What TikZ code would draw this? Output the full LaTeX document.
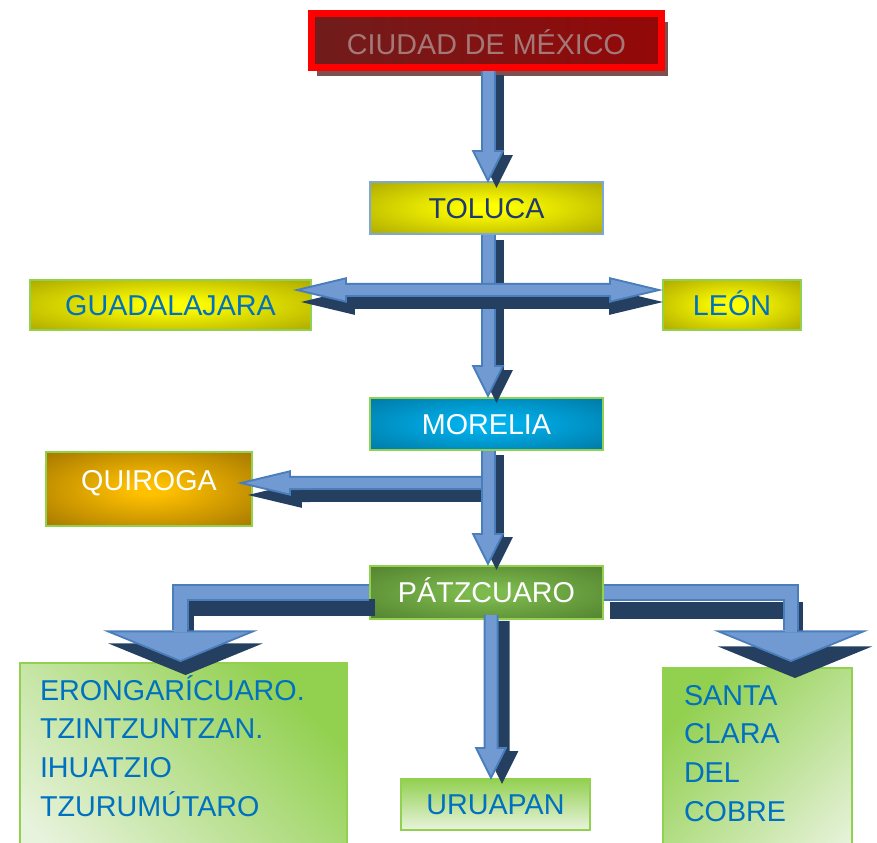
\documentclass[tikz,border=0pt]{standalone}
\usepackage{fontspec}
\setmainfont{Liberation Sans}
\usepackage{tikz}
\usetikzlibrary{arrows.meta, positioning, calc, shadows}

\definecolor{edgeblue}{HTML}{4A7EBB}
\definecolor{coreblue}{HTML}{729AD2}
\definecolor{navy}{HTML}{243F60}
\definecolor{leaf}{HTML}{92D050}
\definecolor{palegreen}{HTML}{E8F3DD}
\definecolor{placeblue}{HTML}{0070C0}
\definecolor{darkred}{HTML}{701C1C}
\definecolor{midred}{HTML}{A3161A}
\definecolor{rightred}{HTML}{940808}
\definecolor{redshadow}{HTML}{7D5050}
\definecolor{redtext}{HTML}{A57878}
\definecolor{mustard}{HTML}{A29E00}
\definecolor{tolblue}{HTML}{7BA7DC}
\definecolor{tolnavy}{HTML}{1F3A6E}
\definecolor{skyblue}{HTML}{00B2EE}
\definecolor{deepteal}{HTML}{00729C}
\definecolor{grassgreen}{HTML}{7DBA4E}
\definecolor{mossgreen}{HTML}{4E7B2B}
\definecolor{amber}{HTML}{FFC000}
\definecolor{bronze}{HTML}{9A6F00}
\colorlet{glowin}{yellow}
\colorlet{glowout}{mustard}
\pgfdeclareradialshading[glowin,glowout]{glow}{\pgfpoint{0bp}{0bp}}{color(0bp)=(glowin);
  color(4bp)=(glowin); color(40bp)=(glowout); color(80bp)=(glowout)}

\begin{document}
\begin{tikzpicture}[x=0.03cm, y=-0.03cm,
    glow/.style 2 args={/utils/exec={\colorlet{glowin}{#1}\colorlet{glowout}{#2}},
      shade, shading=glow},
    box/.style={rectangle, draw=leaf, line width=0.06cm, inner sep=0pt,
      text height=17.5pt, text depth=0pt, font=\fontsize{24.5}{33}\selectfont},
    spine/.style={box, minimum width=6.99cm, minimum height=1.56cm},
    yellowbox/.style={box, glow={yellow}{mustard}, text=placeblue},
    listbox/.style={box, anchor=north west, align=left, inner ysep=0.5cm,
      text depth=160pt, text=placeblue},
    vtip/.tip={Triangle[width=28pt, length=28pt, line width=0pt]},
    vtipin/.tip={Triangle[width=22.5pt, length=22.5pt, line width=0pt]},
    htip/.tip={Triangle[width=22pt, length=46pt, line width=0pt]},
    htipin/.tip={Triangle[width=17.7pt, length=37pt, line width=0pt]},
    wtip/.tip={Triangle[width=132pt, length=27pt, line width=0pt]},
    wtipin/.tip={Triangle[width=115pt, length=23.5pt, line width=0pt]},
    vbar/.style={draw=edgeblue, line width=12.8pt, -vtip,
      postaction={draw=coreblue, line width=9.4pt, shorten >=3.8pt, -vtipin}},
    hbar/.style={draw=edgeblue, line width=12pt, -htip,
      postaction={draw=coreblue, line width=8.6pt, shorten >=7.3pt, -htipin}},
    wbar/.style={draw=edgeblue, line width=14pt, -wtip,
      postaction={draw=coreblue, line width=10.6pt, shorten >=1.8pt, -wtipin}},
    vdark/.style={draw=navy, line width=12.8pt, -vtip},
    hdark/.style={draw=navy, line width=12pt, -htip},
    wdark/.style={draw=navy, line width=14pt, -wtip}
  ]
  \useasboundingbox (0,0) rectangle (877,842);
  \clip (0,0) rectangle (877,842);

  % boxes
  \node[box, draw=red, line width=0.2cm, minimum width=10.5cm, minimum height=1.62cm,
    left color=darkred, middle color=midred, right color=rightred,
    text=redtext, text height=23.5pt,
    drop shadow={shadow xshift=0.18cm, shadow yshift=-0.25cm, fill=redshadow, opacity=1}]
    (cdmx) at (486.5,40.5) {CIUDAD DE MÉXICO};
  \node[spine, below=3.3cm of cdmx, draw=tolblue, glow={yellow}{mustard},
    text=tolnavy] (tol) {TOLUCA};
  \node[spine, below=4.86cm of tol, glow={skyblue}{deepteal}, text=white] (mor) {MORELIA};
  \node[spine, below=3.42cm of mor, minimum height=1.59cm, glow={grassgreen}{mossgreen},
    text=white] (pat) {PÁTZCUARO};
  \node[box, below=4.74cm of pat, xshift=0.27cm, minimum width=5.67cm, minimum height=1.53cm,
    top color=leaf, bottom color=palegreen, text=placeblue] (uru) {URUAPAN};
  \node[yellowbox, minimum width=8.43cm, minimum height=1.5cm] (guad) at (170.5,305) {GUADALAJARA};
  \node[yellowbox, minimum width=4.14cm, minimum height=1.5cm] (leon) at (732,305) {LEÓN};
  \node[box, minimum width=6.18cm, minimum height=2.22cm, text depth=0.54cm,
    glow={amber}{bronze}, text=white] (quir) at (149,489) {QUIROGA};
  \node[listbox, text width=8.61cm, inner xsep=0.6cm, top color=leaf, bottom color=palegreen,
    shading angle=-45] (ero) at (19,662)
    {ERONGARÍCUARO.\\TZINTZUNTZAN.\\IHUATZIO\\TZURUMÚTARO};
  \node[listbox, text width=4.41cm, inner xsep=0.63cm, top color=leaf, bottom color=palegreen,
    shading angle=45] (santa) at (662,667) {SANTA\\CLARA\\DEL\\COBRE};

  % arrows
  \coordinate (hub) at ($(tol.south)+(1.5,55)$);
  \coordinate (fork) at ($(mor.south)+(1.5,32)$);

  \draw[vdark] ($(cdmx.south)+(10,4)$) -- ($(tol.north)+(10,7)$);
  \draw[vbar] ($(cdmx.south)+(1.5,0)$) -- ($(tol.north)+(1.5,2)$);

  \draw[vdark] ($(tol.south)+(10,5)$) -- ($(mor.north)+(10,6)$);
  \draw[vbar] ($(tol.south)+(1.5,0)$) -- ($(mor.north)+(1.5,1)$);

  \draw[hdark, htip-htip] ($(guad.east)+(-11,-3)$) -- ($(leon.west)+(1,-3)$);
  \draw[hbar] (hub) -- ($(guad.east)+(-19,-15)$);
  \draw[hbar] (hub) -- ($(leon.west)+(1,-15)$);

  \draw[hdark] ($(fork)+(9,12)$) -- ($(quir.east)+(-5,6)$);
  \draw[hbar] (fork) -- ($(quir.east)+(-16,-6)$);

  \draw[vdark] ($(mor.south)+(10,4)$) -- ($(pat.north)+(10,5)$);
  \draw[vbar] ($(mor.south)+(1.5,0)$) -- ($(pat.north)+(1.5,1)$);

  \draw[vdark] ($(pat.south)+(15.5,1)$) -- ($(uru.north)+(6.5,6)$);
  \draw[vbar] ($(pat.south)+(4.5,-5)$) -- ($(uru.north)+(-4.5,2)$);

  \draw[wdark] ($(pat.west)+(6,15)$) -| ($(ero.north)+(2,13)$);
  \draw[wbar] (pat.west) -| ($(ero.north)+(-3,0)$);
  \draw[wdark] ($(pat.east)+(6,18)$) -| ($(santa.north)+(37.5,11)$);
  \draw[wbar] (pat.east) -| ($(santa.north)+(33.5,-5)$);
\end{tikzpicture}
\end{document}
